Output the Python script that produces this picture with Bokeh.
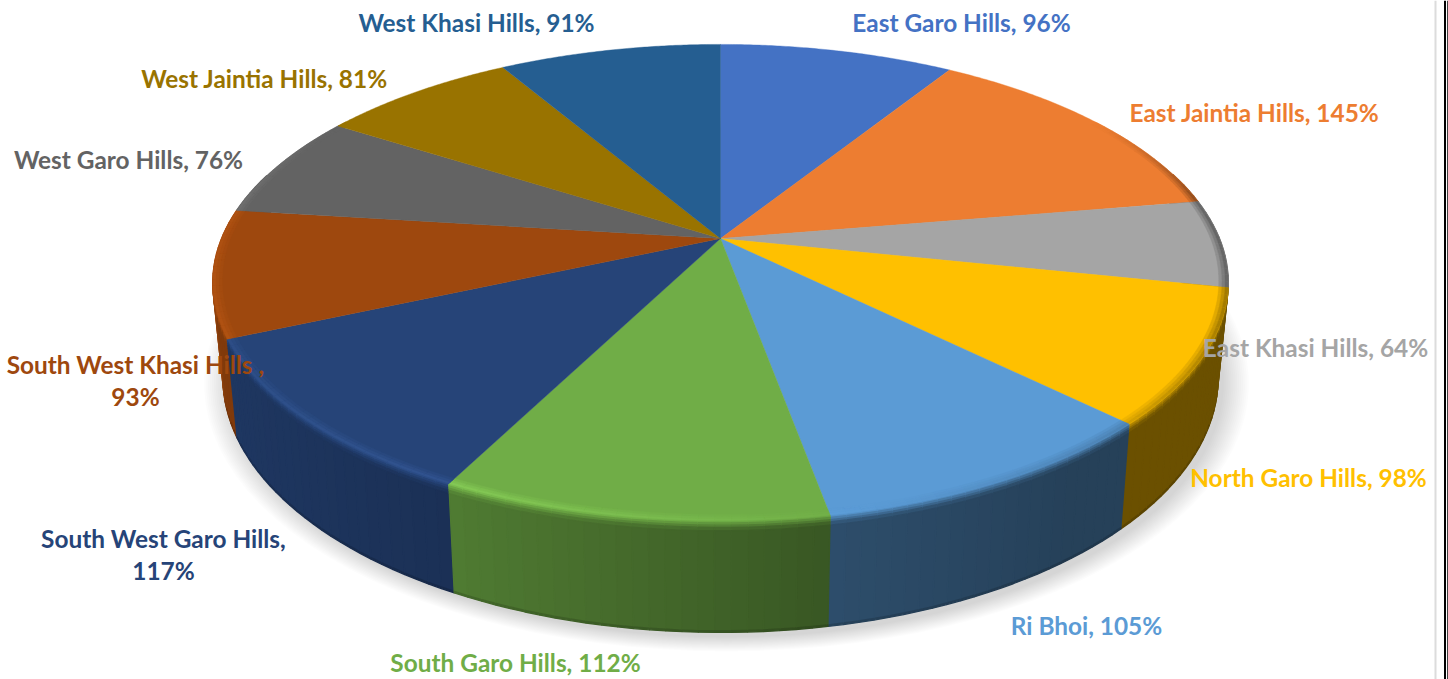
import numpy as np
from bokeh.embed import file_html
from bokeh.resources import INLINE
from bokeh.plotting import figure
from bokeh.models import Range1d, Span, ColumnDataSource
from bokeh.core.properties import value

names = ["East Garo Hills", "East Jaintia Hills", "East Khasi Hills", "North Garo Hills",
         "Ri Bhoi", "South Garo Hills", "South West Garo Hills", "South West Khasi Hills ",
         "West Garo Hills", "West Jaintia Hills", "West Khasi Hills"]
values = [96, 145, 64, 98, 105, 112, 117, 93, 76, 81, 91]
colors = ["#4472c4", "#ed7d31", "#a5a5a5", "#ffc000", "#5b9bd5", "#70ad47",
          "#264478", "#9e480e", "#636363", "#997300", "#255e91"]
wrapped = {"South West Garo Hills", "South West Khasi Hills "}

# label centres, in page pixels
label_x = [961, 1254, 1315, 1308, 1086, 515, 163, 135, 128, 264, 476]
label_y = [22, 112, 347, 477, 625, 662, 554, 380, 159, 78, 22]

# projection of the disc, in page pixels
CX, CY = 720.0, 238.0
A, B, K = 499.0, 230.0, 0.185
BX, BY, BD = 0.98, 1.07, 92.0


def top(theta, r=1.0):
    u, v = r * np.sin(theta), -r * np.cos(theta)
    w = 1 - K * v
    return A * u / w, B * v / w


def wall(theta, t):
    X, Y = top(theta)
    f = 1 + (BX - 1) * t
    return CX + X * f, CY + Y + (Y * (BY - 1) + BD) * t


def rgb(h):
    return np.array([int(h[i:i + 2], 16) for i in (1, 3, 5)], float)


def shade(c, f):
    c = np.asarray(c, float)
    out = c * f if f <= 1 else c * f + (f - 1) * 40
    return "#%02x%02x%02x" % tuple(int(x) for x in np.clip(out, 0, 255))


def wall_f(u):
    return float(np.interp(u, [-1, -.985, -.95, -.5, .2, .6, 1],
                           [1.15, 1.05, .82, .73, .5, .42, .42]))


def rim_f(u, v):
    f = float(np.interp(u, [-1, -.5, 0, .25, .7, 1], [1.08, 1.14, 1.05, 1.0, .85, .62]))
    return 1 + (f - 1) * float(np.interp(v, [-.55, -.2], [0, 1]))


total = sum(values)
edges = np.concatenate([[0], np.cumsum(values)]) / total * 2 * np.pi

p = figure(width=1448, height=679, x_range=Range1d(0, 1448), y_range=Range1d(679, 0),
           output_backend="svg", toolbar_location=None, min_border=0)
p.axis.visible = False
p.grid.visible = False
p.outline_line_color = None
p.background_fill_color = "white"
p.border_fill_color = "white"

p.add_layout(Span(location=1435, dimension="height", line_color="#dcdcdc", line_width=2))
p.add_layout(Span(location=1444.5, dimension="height", line_color="black", line_width=2))
p.add_layout(Span(location=1447.5, dimension="height", line_color="black", line_width=1.5))

# soft shadow under the pie
ring = np.radians(np.arange(0, 361, 3))
bx, by = wall(ring, 1.0)
bcy, bcx = by.mean(), bx.mean()
for i, s in enumerate(np.linspace(1.05, 1.0, 14)):
    p.patch(bcx + 6 + (bx - bcx) * s, bcy + 5 + (by - bcy) * s,
            fill_color="black", fill_alpha=0.012, line_color=None)

# side wall strips, back to front
strips = []
levels = [0, .02, .04, .06, .09, .985, 1]
for i in range(len(values)):
    base = rgb(colors[i])
    n = max(2, int(np.degrees(edges[i + 1] - edges[i]) / 1.5))
    th = np.linspace(edges[i], edges[i + 1], n + 1)
    for a0, a1 in zip(th[:-1], th[1:]):
        m = (a0 + a1) / 2
        u, v = np.sin(m), -np.cos(m)
        if v < -0.3:
            continue
        wf, rf = wall_f(u), rim_f(u, v)
        for j in range(len(levels) - 1):
            t0, t1 = levels[j], levels[j + 1]
            if j < 4:
                mix = (j + .5) / 4
                f = rf * (1 - mix) + wf * mix
            elif j == 4:
                f = wf
            else:
                f = wf * .85
            x0, y0 = wall(a0, t0)
            x1, y1 = wall(a1, t0)
            x2, y2 = wall(a1, t1)
            x3, y3 = wall(a0, t1)
            strips.append((v + j * 1e-3, [x0, x1, x2, x3], [y0, y1, y2, y3], shade(base, f)))
strips.sort(key=lambda s: s[0])
src = ColumnDataSource(dict(xs=[s[1] for s in strips], ys=[s[2] for s in strips],
                            c=[s[3] for s in strips]))
p.patches("xs", "ys", source=src, fill_color="c", line_color="c", line_width=1.3)

# top face
fx, fy, fc = [], [], []
for i in range(len(values)):
    th = np.linspace(edges[i], edges[i + 1], 80)
    X, Y = top(th)
    fx.append(np.concatenate([[CX], CX + X]).tolist())
    fy.append(np.concatenate([[CY], CY + Y]).tolist())
    fc.append(colors[i])
p.patches(fx, fy, fill_color=fc, line_color=fc, line_width=0.4)

# bevel just inside the rim
bxs, bys, bcs = [], [], []
radii = [.982, .988, .994, 1.0]
for i in range(len(values)):
    base = rgb(colors[i])
    n = max(2, int(np.degrees(edges[i + 1] - edges[i]) / 1.5))
    th = np.linspace(edges[i], edges[i + 1], n + 1)
    for a0, a1 in zip(th[:-1], th[1:]):
        m = (a0 + a1) / 2
        u, v = np.sin(m), -np.cos(m)
        if v < -0.55:
            continue
        rf = rim_f(u, v)
        for j in range(len(radii) - 1):
            r0, r1 = radii[j], radii[j + 1]
            x0, y0 = top(a0, r0)
            x1, y1 = top(a1, r0)
            x2, y2 = top(a1, r1)
            x3, y3 = top(a0, r1)
            bxs.append([CX + x0, CX + x1, CX + x2, CX + x3])
            bys.append([CY + y0, CY + y1, CY + y2, CY + y3])
            bcs.append(shade(base, 1 + (rf - 1) * (j + 1) / 3))
p.patches(bxs, bys, fill_color=bcs, line_color=bcs, line_width=0.4)

# labels
texts = [f"{n},\n{v}%" if n in wrapped else f"{n}, {v}%" for n, v in zip(names, values)]
p.text(label_x, label_y, text=texts, text_color=colors, text_align="center",
       text_baseline="middle", text_font=value("Lato"), text_font_style="bold",
       text_font_size="24.4px", text_line_height=1.13)

open("out.html", "w").write(file_html(p, INLINE))
